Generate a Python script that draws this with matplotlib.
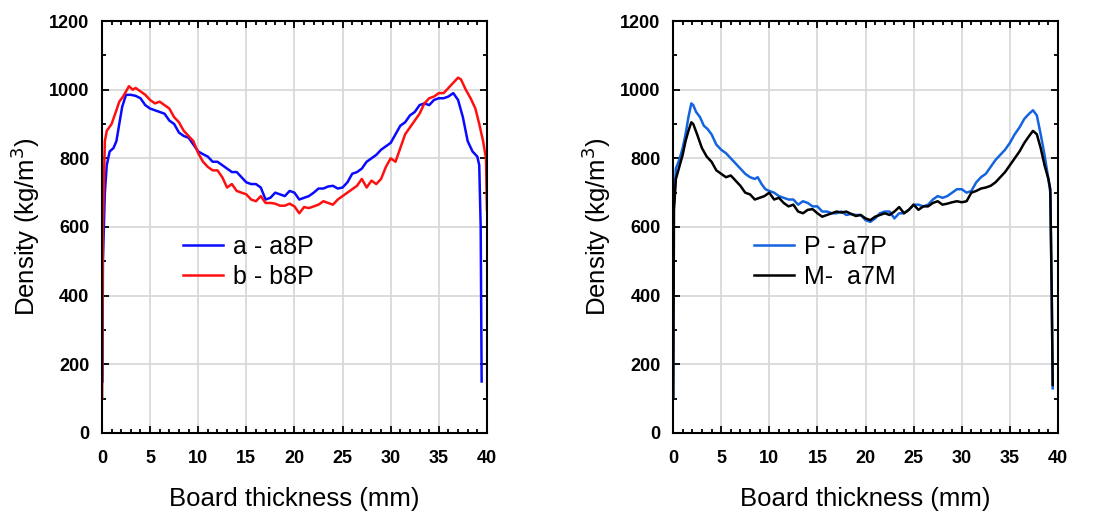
import matplotlib
matplotlib.use("Agg")
import matplotlib.pyplot as plt
from matplotlib.ticker import MultipleLocator

# ==================== DATA ====================
# left panel: a - a8P (blue), b - b8P (red)
a8p_x = [0.05, 0.1, 0.3, 0.5, 0.8, 1.2, 1.5, 1.8, 2.1, 2.5, 3.0, 3.5, 4.0, 4.5, 5.0, 5.5,
         6.0, 6.5, 7.0, 7.5, 8.0, 8.5, 9.0, 9.5, 10.0, 10.5, 11.0, 11.5, 12.0, 12.5, 13.0,
         13.5, 14.0, 14.5, 15.0, 15.5, 16.0, 16.5, 17.0, 17.5, 18.0, 18.5, 19.0, 19.5, 20.0,
         20.5, 21.0, 21.5, 22.0, 22.5, 23.0, 23.5, 24.0, 24.5, 25.0, 25.5, 26.0, 26.5, 27.0,
         27.5, 28.0, 28.5, 29.0, 29.5, 30.0, 30.5, 31.0, 31.5, 32.0, 32.5, 33.0, 33.5, 34.0,
         34.5, 35.0, 35.5, 36.0, 36.5, 37.0, 37.5, 38.0, 38.5, 39.0, 39.2, 39.35, 39.45]
a8p_y = [150, 500, 700, 780, 820, 830, 850, 900, 950, 985, 985, 982, 975, 955, 945, 940,
         935, 930, 910, 900, 875, 865, 860, 840, 820, 812, 805, 790, 790, 780, 770,
         760, 760, 745, 730, 725, 725, 715, 680, 685, 700, 695, 690, 705, 700,
         680, 685, 690, 700, 712, 712, 718, 720, 712, 715, 730, 755, 760, 770,
         790, 800, 810, 825, 835, 845, 870, 895, 905, 925, 935, 955, 960, 955,
         970, 975, 975, 980, 990, 970, 920, 850, 820, 805, 780, 600, 150]

b8p_x = [0.02, 0.1, 0.3, 0.5, 1.0, 1.5, 1.8, 2.2, 2.6, 2.8, 3.2, 3.5, 4.0, 4.5, 5.0, 5.5,
         6.0, 6.5, 7.0, 7.5, 8.0, 8.5, 9.0, 9.5, 10.0, 10.5, 11.0, 11.5, 12.0, 12.5, 13.0,
         13.5, 14.0, 14.5, 15.0, 15.5, 16.0, 16.5, 17.0, 17.5, 18.0, 18.5, 19.0, 19.5, 20.0,
         20.5, 21.0, 21.5, 22.0, 22.5, 23.0, 23.5, 24.0, 24.5, 25.0, 25.5, 26.0, 26.5, 27.0,
         27.5, 28.0, 28.5, 29.0, 29.5, 30.0, 30.5, 31.0, 31.5, 32.0, 32.5, 33.0, 33.5, 34.0,
         34.5, 35.0, 35.5, 36.0, 36.5, 37.0, 37.3, 37.8, 38.3, 38.8, 39.2, 39.6, 39.9, 40.0]
b8p_y = [100, 600, 850, 880, 900, 940, 965, 980, 1000, 1010, 1000, 1005, 995, 985, 970, 960,
         965, 955, 945, 920, 905, 880, 865, 850, 815, 790, 775, 765, 765, 745, 715,
         725, 705, 700, 695, 680, 675, 690, 670, 670, 668, 662, 662, 668, 660,
         640, 658, 655, 660, 665, 675, 670, 665, 680, 690, 700, 710, 720, 740,
         715, 735, 725, 740, 775, 800, 790, 830, 870, 890, 910, 930, 960, 975,
         980, 990, 990, 1005, 1020, 1035, 1030, 1000, 975, 945, 900, 850, 800, 650]

# right panel: P - a7P (blue), M- a7M (black)
a7p_x = [0.02, 0.05, 0.3, 0.7, 1.0, 1.3, 1.6, 1.9, 2.1, 2.4, 2.8, 3.2, 3.6, 4.0, 4.5, 5.0,
         5.5, 6.0, 6.5, 7.0, 7.5, 8.0, 8.5, 8.8, 9.2, 9.6, 10.0, 10.5, 11.0, 11.5, 12.0,
         12.5, 13.0, 13.5, 14.0, 14.5, 15.0, 15.5, 16.0, 16.5, 17.0, 17.5, 18.0, 18.5, 19.0,
         19.5, 20.0, 20.5, 21.0, 21.5, 22.0, 22.5, 23.0, 23.5, 24.0, 24.5, 25.0, 25.5, 26.0,
         26.5, 27.0, 27.5, 28.0, 28.5, 29.0, 29.5, 30.0, 30.5, 31.0, 31.5, 32.0, 32.5, 33.0,
         33.5, 34.0, 34.5, 35.0, 35.5, 36.0, 36.5, 37.0, 37.4, 37.8, 38.2, 38.6, 39.0, 39.2,
         39.35, 39.45]
a7p_y = [100, 650, 770, 800, 830, 870, 920, 960, 955, 935, 920, 895, 885, 870, 840, 825,
         815, 800, 785, 770, 755, 745, 740, 745, 725, 710, 705, 700, 690, 685, 680,
         680, 665, 675, 670, 660, 660, 645, 645, 640, 640, 645, 635, 638, 635,
         635, 620, 615, 625, 640, 645, 645, 625, 640, 640, 650, 665, 665, 660,
         665, 680, 690, 685, 690, 700, 710, 710, 700, 705, 730, 745, 755, 775,
         795, 810, 825, 845, 870, 890, 915, 930, 940, 925, 870, 810, 740, 700,
         400, 130]

a7m_x = [0.02, 0.1, 0.3, 0.7, 1.0, 1.3, 1.6, 1.9, 2.1, 2.5, 3.0, 3.5, 4.0, 4.5, 5.0, 5.5,
         6.0, 6.5, 7.0, 7.5, 8.0, 8.5, 9.0, 9.5, 10.0, 10.5, 11.0, 11.5, 12.0, 12.5, 13.0,
         13.5, 14.0, 14.5, 15.0, 15.5, 16.0, 16.5, 17.0, 17.5, 18.0, 18.5, 19.0, 19.5, 20.0,
         20.5, 21.0, 21.5, 22.0, 22.5, 23.0, 23.5, 24.0, 24.5, 25.0, 25.5, 26.0, 26.5, 27.0,
         27.5, 28.0, 28.5, 29.0, 29.5, 30.0, 30.5, 31.0, 31.5, 32.0, 32.5, 33.0, 33.5, 34.0,
         34.5, 35.0, 35.5, 36.0, 36.5, 37.0, 37.4, 37.8, 38.2, 38.6, 39.0, 39.2, 39.35, 39.45]
a7m_y = [100, 650, 740, 780, 810, 850, 880, 905, 900, 870, 830, 805, 790, 765, 755, 745,
         750, 735, 720, 700, 695, 680, 685, 690, 700, 680, 685, 670, 660, 665, 645,
         640, 650, 652, 640, 630, 635, 640, 645, 642, 645, 638, 632, 635, 625,
         620, 630, 635, 640, 635, 645, 658, 640, 650, 665, 650, 660, 660, 670,
         675, 665, 668, 672, 675, 672, 675, 700, 705, 712, 715, 720, 730, 745,
         760, 780, 800, 820, 845, 865, 880, 870, 830, 780, 740, 710, 400, 140]

x_ticks = [0, 5, 10, 15, 20, 25, 30, 35, 40]
y_ticks = [0, 200, 400, 600, 800, 1000, 1200]
# ==============================================

TICK_FONT = ["Liberation Sans Narrow", "Liberation Sans", "DejaVu Sans"]
LABEL_FONT = ["Liberation Sans", "DejaVu Sans"]


def style_axes(ax):
    ax.set_xlim(0, 40)
    ax.set_ylim(0, 1200)
    ax.set_xticks(x_ticks)
    ax.set_yticks(y_ticks)
    ax.xaxis.set_minor_locator(MultipleLocator(1))
    ax.yaxis.set_minor_locator(MultipleLocator(100))
    ax.tick_params(which="both", direction="in", top=True, right=True, width=1.3)
    ax.tick_params(which="major", length=5)
    ax.tick_params(which="minor", length=3)
    ax.tick_params(axis="x", which="major", pad=12)
    ax.tick_params(axis="y", which="major", pad=9)
    ax.grid(True, which="major", color="#d9d9d9", linewidth=1.3)
    ax.set_axisbelow(True)
    for sp in ax.spines.values():
        sp.set_linewidth(1.5)
    for lab in ax.get_xticklabels() + ax.get_yticklabels():
        lab.set_family(TICK_FONT)
        lab.set_fontweight("bold")
        lab.set_fontsize(13)
    ax.set_xlabel("Board thickness (mm)", family=LABEL_FONT, fontsize=18.5, labelpad=15)
    ax.set_ylabel("Density (kg/m$^3$)", family=LABEL_FONT, fontsize=18.5, labelpad=5)


fig = plt.figure(figsize=(10.94, 5.16), dpi=100)
ax1 = fig.add_axes([0.0932, 0.1609, 0.3519, 0.7984])
ax2 = fig.add_axes([0.6152, 0.1609, 0.3519, 0.7984])

ax1.plot(a8p_x, a8p_y, color="#0a0aff", linewidth=1.8, label="a - a8P")
ax1.plot(b8p_x, b8p_y, color="#ff1010", linewidth=1.8, label="b - b8P")
ax2.plot(a7p_x, a7p_y, color="#1464e0", linewidth=1.8, label="P - a7P")
ax2.plot(a7m_x, a7m_y, color="black", linewidth=1.8, label="M-  a7M")

for ax in (ax1, ax2):
    style_axes(ax)
    ax.legend(loc="upper left", bbox_to_anchor=(0.185, 0.505), frameon=False,
              prop={"family": LABEL_FONT, "size": 18}, handlelength=1.6,
              handletextpad=0.4, labelspacing=0.25, borderaxespad=0)

fig.savefig("out.png", dpi=100)
